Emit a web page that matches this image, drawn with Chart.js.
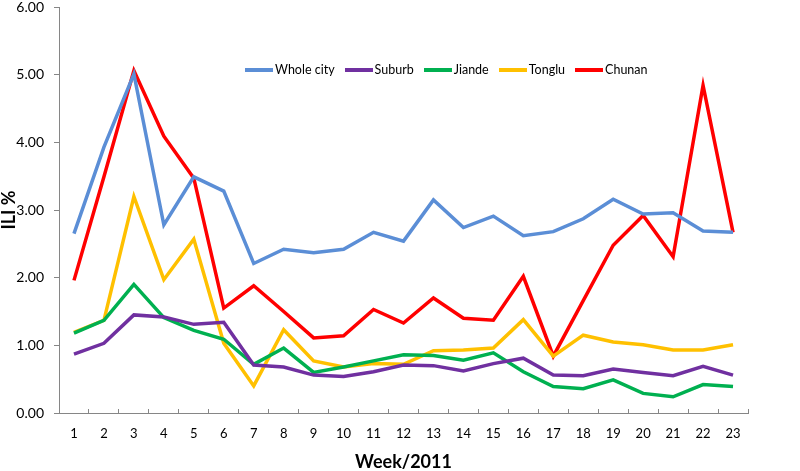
<!DOCTYPE html>
<html>
<head>
<meta charset="utf-8">
<script src="https://cdn.jsdelivr.net/npm/chart.js@4.4.0/dist/chart.umd.min.js"></script>
<style>
  html, body { margin: 0; padding: 0; background: #fff; }
  #wrap { position: relative; width: 800px; height: 471px; }
  #legend {
    position: absolute; left: 245px; top: 62px;
    display: flex; gap: 10px;
    font: 12.5px Lato, "Open Sans", sans-serif; color: #000;
  }
  #legend .item { display: flex; align-items: center; }
  #legend .line { width: 28px; height: 4px; margin-right: 2px; }
</style>
</head>
<body>
<div id="wrap">
  <canvas id="ili" width="800" height="471"></canvas>
  <div id="legend"></div>
</div>
<script>
const weeks = ["1","2","3","4","5","6","7","8","9","10","11","12","13","14","15","16","17","18","19","20","21","22","23"];
const yTicks = [0, 1, 2, 3, 4, 5, 6];

const seriesNames = ["Whole city", "Suburb", "Jiande", "Tonglu", "Chunan"];
const seriesColors = ["#5B8ED6", "#7030A0", "#00B050", "#FFC000", "#FF0000"];

const wholeCity = [2.65, 3.93, 5.01, 2.78, 3.49, 3.28, 2.21, 2.42, 2.37, 2.42, 2.67, 2.54, 3.15, 2.74, 2.91, 2.62, 2.68, 2.87, 3.16, 2.94, 2.96, 2.69, 2.67];
const suburb    = [0.87, 1.03, 1.45, 1.42, 1.31, 1.34, 0.71, 0.68, 0.56, 0.54, 0.61, 0.71, 0.70, 0.62, 0.73, 0.81, 0.56, 0.55, 0.65, 0.60, 0.55, 0.69, 0.56];
const jiande    = [1.18, 1.37, 1.90, 1.41, 1.22, 1.09, 0.72, 0.96, 0.60, 0.68, 0.77, 0.86, 0.85, 0.78, 0.89, 0.61, 0.39, 0.36, 0.49, 0.29, 0.24, 0.42, 0.39];
const tonglu    = [1.19, 1.37, 3.20, 1.97, 2.57, 1.03, 0.40, 1.23, 0.77, 0.68, 0.73, 0.72, 0.92, 0.93, 0.96, 1.38, 0.84, 1.15, 1.05, 1.01, 0.93, 0.93, 1.01];
const chunan    = [1.96, 3.49, 5.06, 4.09, 3.47, 1.55, 1.88, 1.50, 1.11, 1.14, 1.53, 1.33, 1.70, 1.40, 1.37, 2.02, 0.84, 1.66, 2.48, 2.92, 2.31, 4.84, 2.67];

const seriesValues = [wholeCity, suburb, jiande, tonglu, chunan];

// legend as html, same order as the reference
const legendBox = document.getElementById("legend");
seriesNames.forEach((name, i) => {
  const item = document.createElement("div");
  item.className = "item";
  item.innerHTML = '<span class="line" style="background:' + seriesColors[i] + '"></span><span>' + name + '</span>';
  legendBox.appendChild(item);
});

const axisColor = "#868686";

const datasets = seriesNames.map((name, i) => ({
  label: name,
  data: seriesValues[i],
  borderColor: seriesColors[i],
  backgroundColor: seriesColors[i],
  borderWidth: 3.5,
  pointRadius: 0,
  tension: 0,
  fill: false,
}));

new Chart(document.getElementById("ili"), {
  type: "line",
  data: { labels: weeks, datasets },
  options: {
    responsive: false,
    animation: false,
    layout: { padding: { top: 7, right: 52, bottom: 0, left: 0 } },
    plugins: {
      legend: { display: false },
      tooltip: { enabled: false },
    },
    scales: {
      x: {
        offset: true,
        afterFit: s => { s.height = 58; },
        grid: {
          drawOnChartArea: false,
          color: axisColor,
          tickLength: -4,
          offset: true,
        },
        border: { color: axisColor, width: 1 },
        ticks: {
          color: "#000",
          padding: 17,
          maxRotation: 0,
          autoSkip: false,
          font: { family: "Lato", size: 13 },
        },
        title: {
          display: true,
          text: "Week/2011",
          color: "#000",
          font: { family: "Lato", size: 18, weight: "bold", lineHeight: 1 },
          padding: { top: 0, bottom: 0 },
        },
      },
      y: {
        min: yTicks[0],
        max: yTicks[yTicks.length - 1],
        // keep the plot top where the reference has it
        afterFit: s => { s.width = 59; s.paddingTop = 0; s.paddingBottom = 0; },
        afterBuildTicks: s => { s.ticks = yTicks.map(v => ({ value: v })); },
        grid: {
          drawOnChartArea: false,
          color: axisColor,
          tickLength: 5,
        },
        border: { color: axisColor, width: 1 },
        ticks: {
          color: "#000",
          padding: 10,
          font: { family: "Lato", size: 14 },
          callback: v => Number(v).toFixed(2),
        },
        title: {
          display: true,
          text: "ILI %",
          color: "#000",
          font: { family: "Lato", size: 18, weight: "bold", lineHeight: 1 },
          padding: { top: 0, bottom: 0 },
        },
      },
    },
  },
});
</script>
</body>
</html>
